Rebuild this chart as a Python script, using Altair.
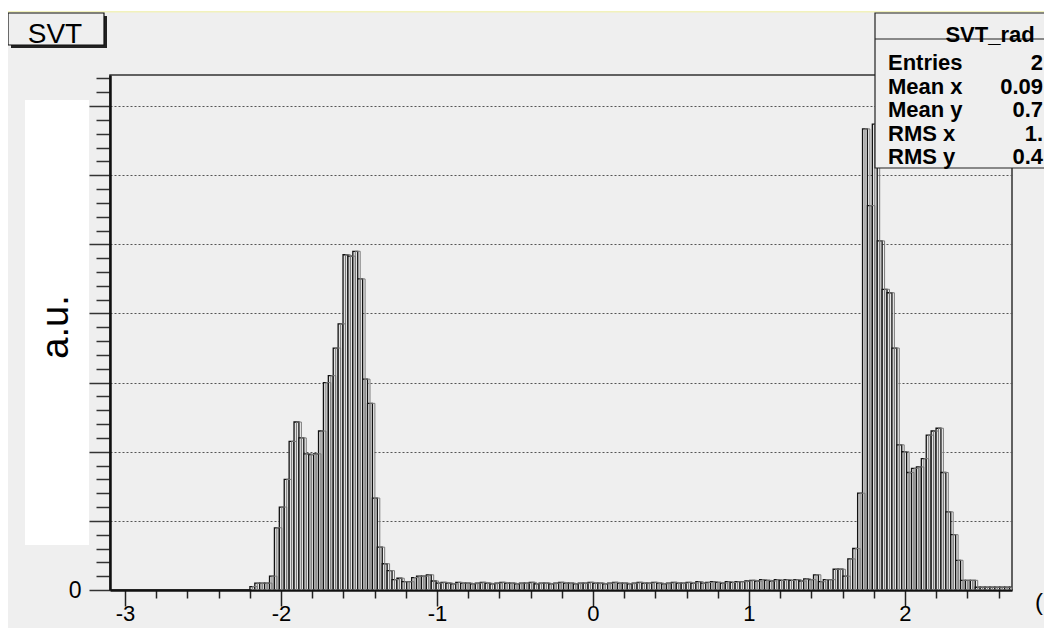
import altair as alt
import numpy as np
import pandas as pd

# ---- histogram definition (200 bins over [-pi, pi]) ----
N_BINS = 200
FIRST_BIN = 30
counts = [
    0.05, 0.10, 0.10, 0.10, 0.20, 0.90, 1.20, 1.60, 2.15, 2.43,
    2.20, 1.97, 1.96, 1.97, 2.30, 3.00, 3.10, 3.50, 3.85, 4.85,
    4.83, 4.90, 4.50, 3.05, 2.70, 1.33, 0.62, 0.38, 0.28, 0.15,
    0.17, 0.12, 0.12, 0.18, 0.20, 0.20, 0.22, 0.13, 0.10, 0.11,
    0.10, 0.09, 0.11, 0.10, 0.10, 0.09, 0.10, 0.11, 0.10, 0.09,
    0.10, 0.11, 0.10, 0.10, 0.09, 0.10, 0.10, 0.11, 0.09, 0.10,
    0.10, 0.09, 0.10, 0.11, 0.10, 0.10, 0.09, 0.10, 0.10, 0.11,
    0.10, 0.10, 0.09, 0.10, 0.11, 0.10, 0.10, 0.09, 0.10, 0.11,
    0.10, 0.10, 0.11, 0.10, 0.09, 0.10, 0.11, 0.10, 0.10, 0.11,
    0.10, 0.12, 0.10, 0.11, 0.12, 0.11, 0.10, 0.12, 0.11, 0.12,
    0.12, 0.13, 0.14, 0.13, 0.15, 0.14, 0.13, 0.15, 0.14, 0.15,
    0.14, 0.15, 0.13, 0.16, 0.15, 0.22, 0.12, 0.15, 0.15, 0.30,
    0.30, 0.20, 0.45, 0.60, 1.40, 6.67, 5.56, 6.74, 5.05, 4.35,
    4.30, 3.50, 2.10, 2.00, 1.70, 1.76, 1.78, 1.90, 2.24, 2.30,
    2.34, 1.70, 1.13, 0.80, 0.43, 0.14, 0.14, 0.14, 0.04, 0.04,
    0.04, 0.04, 0.04, 0.04, 0.04, 0.04,
]

bin_w = 2 * np.pi / N_BINS
idx = np.arange(FIRST_BIN, FIRST_BIN + len(counts))
hist = pd.DataFrame({
    "x0": -np.pi + idx * bin_w,
    "x1": -np.pi + (idx + 1) * bin_w,
    "count": counts,
})

X_DOMAIN = [-3.096, 2.686]
Y_DOMAIN = [0, 7.45]
x_ticks = [round(v, 1) for v in np.arange(-3.0, 2.61, 0.2)]
y_ticks = [round(v, 1) for v in np.arange(0.0, 7.41, 0.2)]

stats_labels = ["Entries", "Mean x", "Mean y", "RMS x", "RMS y"]
stats_values = ["2", "0.09", "0.7", "1.", "0.4"]

FONT = "Liberation Sans"
BG = "#efefef"

one = pd.DataFrame({"a": [0]})

is_major_x = "abs(datum.value - round(datum.value)) < 0.01"
x_axis = alt.Axis(
    values=x_ticks,
    tickSize={"condition": {"test": is_major_x, "value": 16}, "value": 8},
    labelExpr=f"{is_major_x} ? toString(round(datum.value)) : ''",
    labelFont=FONT, labelFontSize=22, labelColor="black", labelPadding=-3,
    labelFlush=False, labelOverlap=False,
    domainColor="#111", domainWidth=2.5, tickColor="#222", tickWidth=1.5,
    grid=False, title=None,
)
is_major_y = "abs(datum.value - round(datum.value)) < 0.01"
y_axis = alt.Axis(
    values=y_ticks,
    tickSize={"condition": {"test": is_major_y, "value": 21}, "value": 14},
    labelExpr="datum.value == 0 ? '0' : ''",
    labelFont=FONT, labelFontSize=23, labelColor="black", labelPadding=8,
    labelBaseline="middle", labelFlush=False, labelOverlap=False,
    domainColor="#111", domainWidth=2.5, tickColor="#333", tickWidth=1.5,
    grid=True, gridColor="#555", gridDash=[2, 2], gridWidth=1,
    gridOpacity={"condition": {"test": is_major_y + " && datum.value > 0", "value": 1}, "value": 0},
    title=None,
)

x_scale = alt.Scale(domain=X_DOMAIN, nice=False, zero=False)
y_scale = alt.Scale(domain=Y_DOMAIN, nice=False, zero=True)

base = alt.Chart(hist)
bars = base.mark_rect(
    fill="#e4e4e4", stroke="#111", strokeWidth=1.3, clip=True
).encode(
    x=alt.X("x0:Q", scale=x_scale, axis=x_axis),
    x2="x1:Q",
    y=alt.Y("count:Q", scale=y_scale, axis=y_axis),
    y2=alt.datum(0),
)
# overlaid second outline (ROOT draws the bar outline twice, shifted)
bars_ghost = base.transform_calculate(
    xm="datum.x0 + " + str(bin_w / 2), xe="datum.x1 + " + str(bin_w / 2)
).mark_rect(
    fillOpacity=0, stroke="#7a7a7a", strokeWidth=1, clip=True
).encode(
    x=alt.X("xm:Q", scale=x_scale, axis=x_axis),
    x2="xe:Q",
    y=alt.Y("count:Q", scale=y_scale, axis=y_axis),
    y2=alt.datum(0),
)


def rect(x, x2, y, y2, **kw):
    return alt.Chart(one).mark_rect(**kw).encode(
        x=alt.value(x), x2=alt.value(x2), y=alt.value(y), y2=alt.value(y2)
    )


def text(s, x, y, **kw):
    return alt.Chart(one).mark_text(font=FONT, **kw).encode(
        x=alt.value(x), y=alt.value(y), text=alt.value(s)
    )


# page -> plot-area coordinates: subtract (110, 75)
top_white = rect(-102, 942, -67, -64, fill="white")
top_yellow = rect(-102, 942, -64, -62.5, fill="#f2f2bc")

svt_shadow = rect(-99, -3, -59, -27, fill="#222")
svt_box = rect(-102, -6, -62, -30, fill=BG, stroke="#111", strokeWidth=1.2)
svt_text = text("SVT", -55, -32, fontSize=28, align="center", baseline="alphabetic", color="black")

white_lbl = rect(-85, -21, 25, 470, fill="white")
au_text = text("a.u.", -53, 252, fontSize=38, angle=270, align="center", baseline="middle", color="black")

stats_box = rect(765, 960, -62, 93, fill=BG, stroke="#222", strokeWidth=1.2)
stats_line = rect(765, 960, -36.5, -35.5, fill="#222")
stats_title = text("SVT_rad", 880, -40, fontSize=22, fontWeight="bold", align="center", color="black")

stat_layers = []
for k, (lab, val) in enumerate(zip(stats_labels, stats_values)):
    yb = -12 + k * 23.5
    stat_layers.append(text(lab, 778, yb, fontSize=22, fontWeight="bold", align="left", color="black"))
    stat_layers.append(text(val, 933, yb, fontSize=22, fontWeight="bold", align="right", color="black"))

paren = text("(", 925, 528, fontSize=24, align="left", baseline="middle", color="black")

chart = alt.layer(
    top_white, top_yellow, svt_shadow, svt_box, svt_text, white_lbl, au_text,
    bars, bars_ghost,
    stats_box, stats_line, stats_title, *stat_layers, paren,
).properties(
    width=902, height=515,
    autosize=alt.AutoSizeParams(type="none"),
    padding={"left": 102, "top": 67, "right": 32, "bottom": 38},
    background=BG,
).configure_view(stroke="#333", strokeWidth=1.5)

chart.save("out.html", embed_options={"renderer": "svg", "actions": False})
